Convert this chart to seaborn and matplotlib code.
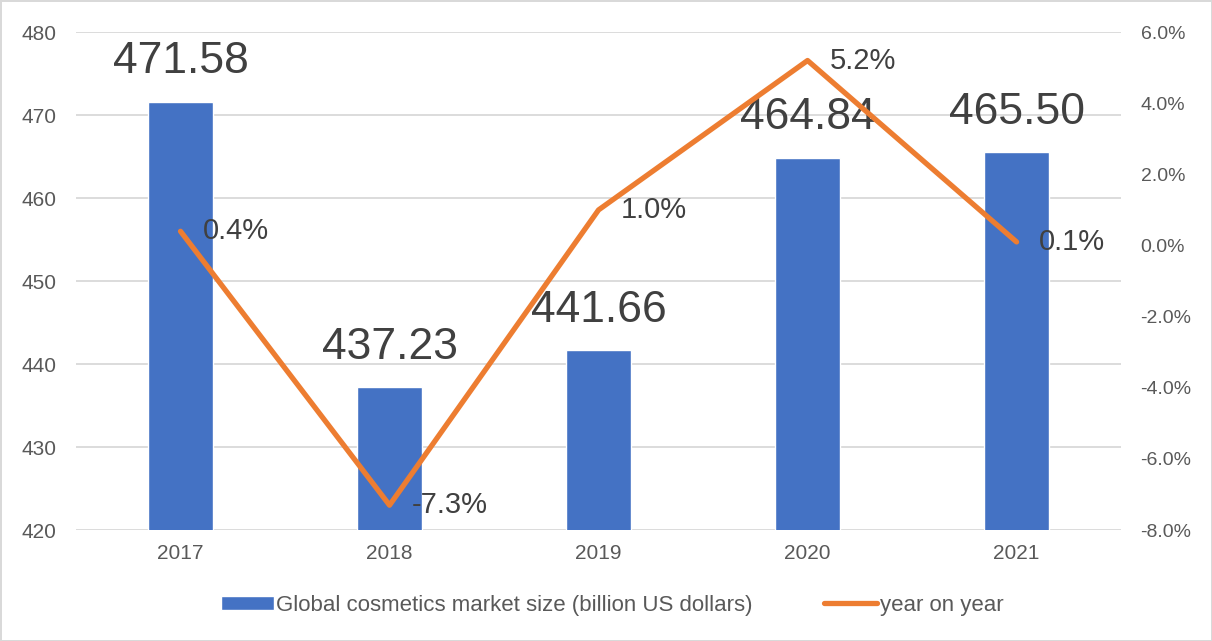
import matplotlib
matplotlib.use("Agg")
import matplotlib.pyplot as plt
import seaborn as sns
import pandas as pd

years = ["2017", "2018", "2019", "2020", "2021"]
market_size = [471.58, 437.23, 441.66, 464.84, 465.50]
yoy_pct = [0.4, -7.3, 1.0, 5.2, 0.1]
bar_label = "Global cosmetics market size (billion US dollars)"
line_label = "year on year"

BLUE = "#4472C4"
ORANGE = "#ED7D31"
GRID = "#D9D9D9"
TICK = "#595959"
LABEL = "#404040"

sns.set_theme(style="white")
plt.rcParams["font.family"] = ["Liberation Sans", "DejaVu Sans"]

df = pd.DataFrame({"year": years, "size": market_size, "yoy": yoy_pct})
df["pos"] = range(len(years))

fig = plt.figure(figsize=(12.12, 6.41), dpi=100, facecolor="white",
                 edgecolor=GRID, linewidth=2)
ax = fig.add_axes([0.0627, 0.173, 0.8623, 0.777])

sns.barplot(data=df, x="year", y="size", color=BLUE, width=0.31,
            saturation=1, ax=ax, label=bar_label, zorder=2)
if ax.get_legend() is not None:
    ax.get_legend().remove()
ax.set_ylim(420, 480)
ax.set_yticks(range(420, 481, 10))
ax.set_xlim(-0.5, len(years) - 0.5)
ax.yaxis.grid(True, color=GRID, linewidth=1.3, zorder=0)
ax.set_axisbelow(True)
for s in ax.spines.values():
    s.set_visible(False)
ax.set_xlabel("")
ax.set_ylabel("")
ax.tick_params(axis="y", length=0, pad=14, labelsize=15, labelcolor=TICK)
ax.tick_params(axis="x", length=0, pad=10, labelsize=15, labelcolor=TICK)

for p, v in zip(ax.patches, market_size):
    ax.annotate(f"{v:.2f}", (p.get_x() + p.get_width() / 2, v),
                xytext=(0, 14), textcoords="offset points",
                ha="center", va="bottom", fontsize=32, color=LABEL)

ax2 = ax.twinx()
sns.lineplot(data=df, x="pos", y="yoy", color=ORANGE, linewidth=3.8,
             ax=ax2, label=line_label, legend=False, zorder=3)
if ax2.get_legend() is not None:
    ax2.get_legend().remove()
ax2.set_ylim(-8, 6)
ax2.set_yticks(range(-8, 7, 2))
ax2.set_yticklabels([f"{t:.1f}%" for t in range(-8, 7, 2)])
ax2.set_xlim(-0.5, len(years) - 0.5)
for s in ax2.spines.values():
    s.set_visible(False)
ax2.set_ylabel("")
ax2.set_xlabel("")
ax2.tick_params(axis="y", length=0, pad=14, labelsize=14, labelcolor=TICK)

for x, v in zip(df["pos"], yoy_pct):
    ax2.annotate(f"{v:.1f}%", (x, v), xytext=(16, 0), textcoords="offset points",
                 ha="left", va="center", fontsize=21, color=LABEL)

h1, l1 = ax.get_legend_handles_labels()
h2, l2 = ax2.get_legend_handles_labels()
leg = fig.legend(h1 + h2, l1 + l2, loc="center", bbox_to_anchor=(0.505, 0.056),
                 ncol=2, frameon=False, fontsize=16, labelcolor=TICK,
                 handlelength=2.4, handleheight=0.6, handletextpad=0.1,
                 columnspacing=3.2)

fig.savefig("out.png", dpi=100, facecolor=fig.get_facecolor(),
            edgecolor=fig.get_edgecolor())
